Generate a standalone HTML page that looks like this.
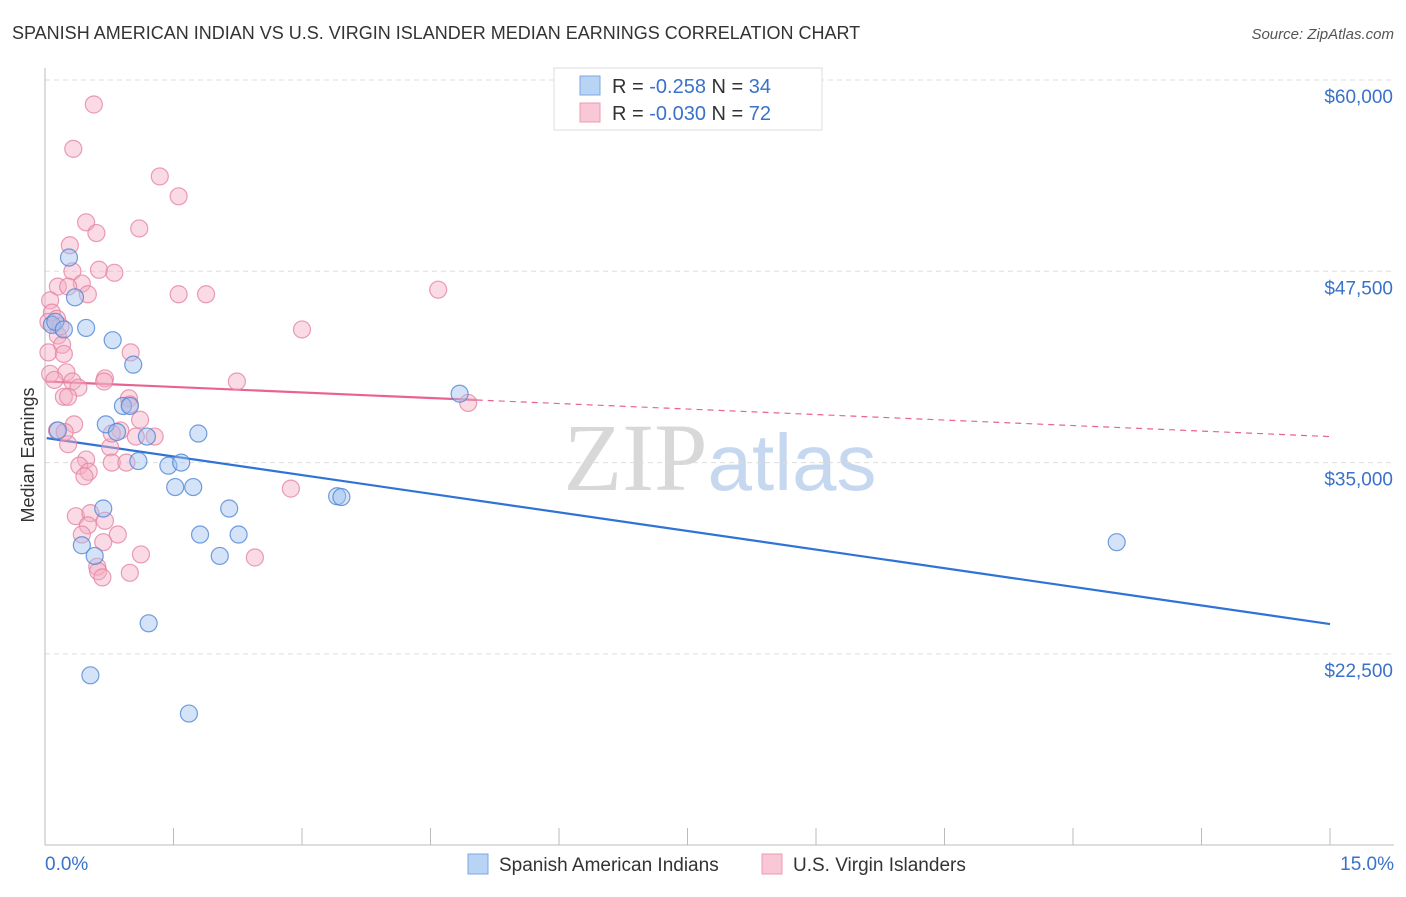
<!DOCTYPE html>
<html><head><meta charset="utf-8"><style>
body{margin:0;background:#fff;font-family:"Liberation Sans",sans-serif;}
svg text{font-family:"Liberation Sans",sans-serif;}
</style></head><body>
<svg id="chart" width="1406" height="892" xmlns="http://www.w3.org/2000/svg">
<text x="12" y="39" font-size="18" fill="#333">SPANISH AMERICAN INDIAN VS U.S. VIRGIN ISLANDER MEDIAN EARNINGS CORRELATION CHART</text>
<text x="1394" y="39" font-size="15" fill="#555" text-anchor="end" font-style="italic">Source: ZipAtlas.com</text>
<text x="720" y="490" font-size="96" text-anchor="middle"><tspan fill="#d8d8d8" font-family="Liberation Serif">ZIP</tspan><tspan fill="#c6d8ef" font-size="80">atlas</tspan></text>
<text transform="translate(34,455) rotate(-90)" font-size="18" fill="#333" text-anchor="middle">Median Earnings</text>
<g id="grid"></g><g id="axes"></g><g id="lines"></g><g id="pts"></g>
<g>
<rect x="554" y="68" width="268" height="62" fill="#fff" stroke="#ddd"/>
<rect x="580" y="76" width="20" height="19" fill="#b9d3f5" stroke="#7aa7e3"/>
<text x="612" y="93" font-size="20" fill="#333">R = <tspan fill="#3a72c9"> -0.258</tspan>   N = <tspan fill="#3a72c9">34</tspan></text>
<rect x="580" y="103" width="20" height="19" fill="#f9c8d6" stroke="#eb9ab2"/>
<text x="612" y="120" font-size="20" fill="#333">R = <tspan fill="#3a72c9">-0.030</tspan>   N = <tspan fill="#3a72c9">72</tspan></text>
</g>
<g>
<rect x="468" y="854" width="20" height="20" fill="#b9d3f5" stroke="#7aa7e3"/>
<text x="499" y="871" font-size="19" fill="#333">Spanish American Indians</text>
<rect x="762" y="854" width="20" height="20" fill="#f9c8d6" stroke="#eb9ab2"/>
<text x="793" y="871" font-size="19" fill="#333">U.S. Virgin Islanders</text>
</g>
</svg>
<script>
const yTicks=[60000,47500,35000,22500];
const yTickLabels=["$60,000","$47,500","$35,000","$22,500"];
const xTickVals=[0,1.5,3,4.5,6,7.5,9,10.5,12,13.5,15];
const blueX=[0.28,0.35,0.08,0.12,0.22,0.48,0.79,1.03,0.91,0.99,0.71,0.84,1.19,1.79,0.15,1.09,1.44,1.59,1.52,1.73,2.15,3.41,3.46,0.68,0.43,0.58,1.81,2.26,2.04,1.21,0.53,1.68,4.84,12.51];
const blueY=[48400,45800,44000,44200,43700,43800,43000,41400,38700,38700,37500,37000,36700,36900,37100,35100,34800,35000,33400,33400,32000,32800,32750,32000,29600,28900,30300,30300,28900,24500,21100,18600,39500,29800];
const pinkX=[0.57,0.33,1.34,1.56,0.48,0.60,1.10,0.29,0.32,0.63,0.81,0.43,0.15,0.50,1.56,1.88,4.59,0.06,0.08,0.14,0.04,3.00,0.15,0.20,0.04,0.22,1.00,0.06,0.25,0.11,0.32,0.70,0.69,2.24,0.39,0.22,0.27,0.98,0.99,4.94,1.11,0.34,0.14,0.88,1.06,1.28,0.76,0.27,0.48,0.40,0.51,0.78,0.95,0.46,2.87,0.36,0.53,0.70,0.50,0.43,0.85,0.68,1.12,2.45,0.61,0.62,0.67,0.99,0.27,0.18,0.78,0.23];
const pinkY=[58400,55500,53700,52400,50700,50000,50300,49200,47500,47600,47400,46700,46500,46000,46000,46000,46300,45600,44800,44400,44200,43700,43300,42700,42200,42100,42200,40800,40900,40400,40300,40500,40300,40300,39900,39300,39300,39200,38800,38900,37800,37500,37100,37100,36700,36700,36000,36200,35200,34800,34400,35000,35000,34100,33300,31500,31700,31200,30900,30300,30300,29800,29000,28800,28200,27900,27500,27800,46500,43900,36900,37000];
const blueTrend=[36600,24450];
const pinkTrend=[40300,36700];
const pinkSolidEnd=5.04;
const X=v=>45+v/15*1285;
const Y=v=>80+(60000-v)/12500*191.3;
const NS="http://www.w3.org/2000/svg";
function mk(tag,attrs,parent){const e=document.createElementNS(NS,tag);for(const k in attrs)e.setAttribute(k,attrs[k]);document.getElementById(parent).appendChild(e);return e;}
yTicks.forEach((t,i)=>{
 const l=mk('line',{x1:45,x2:1394,y1:Y(t),y2:Y(t),stroke:'#ddd','stroke-dasharray':'5,4'},'grid');
 
 
 const tx=mk('text',{x:1393,y:Y(t)+23,'font-size':19,fill:'#3a72c9','text-anchor':'end'},'grid');
 tx.textContent=yTickLabels[i];
 
 
});
const ax=mk('line',{x1:45,x2:45,y1:68,y2:845,stroke:'#bbb'},'axes');


const bx=mk('line',{x1:45,x2:1394,y1:845,y2:845,stroke:'#bbb'},'axes');


xTickVals.forEach(v=>{
 const t=mk('line',{x1:X(v),x2:X(v),y1:828,y2:845,stroke:'#bbb'},'axes');
 
 
});
const xl0=mk('text',{x:45,y:870,'font-size':19,fill:'#3a72c9'},'axes');xl0.textContent="0.0%";


const xl1=mk('text',{x:1394,y:870,'font-size':19,fill:'#3a72c9','text-anchor':'end'},'axes');xl1.textContent="15.0%";


function dot(x,y,f,s,name){const c=mk('circle',{cx:X(x),cy:Y(y),r:8.5,fill:f,'fill-opacity':0.45,stroke:s,'stroke-opacity':0.8,'stroke-width':1.2},'pts');
 
 }
pinkX.forEach((x,i)=>dot(x,pinkY[i],'#f5aec4','#e684a3','virgin-islander-point'));
blueX.forEach((x,i)=>dot(x,blueY[i],'#9fc2ef','#4f86d6','spanish-american-indian-point'));
const bl=mk('line',{x1:X(0.02),y1:Y(blueTrend[0]),x2:X(15),y2:Y(blueTrend[1]),stroke:'#2f73d6','stroke-width':2.2},'lines');


const pAt=x=>pinkTrend[0]+(pinkTrend[1]-pinkTrend[0])*x/15;
const pl=mk('line',{x1:X(0.02),y1:Y(pinkTrend[0]),x2:X(pinkSolidEnd),y2:Y(pAt(pinkSolidEnd)),stroke:'#e8648e','stroke-width':2.2},'lines');


const pd=mk('line',{x1:X(pinkSolidEnd),y1:Y(pAt(pinkSolidEnd)),x2:X(15),y2:Y(pinkTrend[1]),stroke:'#e8648e','stroke-width':1.2,'stroke-dasharray':'6,5'},'lines');


</script>
</body></html>
